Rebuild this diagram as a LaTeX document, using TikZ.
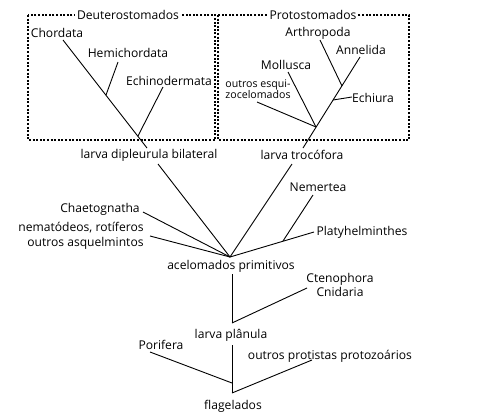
\documentclass[tikz,border=0pt]{standalone}
\usepackage{fontspec}
\setmainfont{Open Sans}
\usetikzlibrary{positioning}
\begin{document}
\begin{tikzpicture}[x=1pt,y=-1pt,font=\fontsize{12.1}{14.5}\selectfont,
 taxon/.style={inner sep=1pt,align=center},
 clade/.style={draw,line width=1.2pt,dash pattern=on 2pt off 1.6pt},
 cladelabel/.style={fill=white,inner sep=2pt},
 branch/.style={line width=0.9pt},
 small/.style={font=\fontsize{10.6}{8.8}\selectfont,align=left,inner sep=0pt}]
\useasboundingbox (0,0) rectangle (504,418);
\draw[clade] (28,15) rectangle (215,140);
\draw[clade] (218,15) rectangle (409,140);
\node[cladelabel] (deut) at (128,15) {Deuterostomados};
\node[cladelabel] (prot) at (313,15) {Protostomados};
\node[taxon] (chord) at (57,33) {Chordata};
\node[taxon] (hemi) at (128,53) {Hemichordata};
\node[taxon] (echino) at (169,81) {Echinodermata};
\node[taxon] (dip) at (149,155) {larva dipleurula bilateral};
\node[taxon] (arthro) at (318,33) {Arthropoda};
\node[taxon] (annel) at (361,50) {Annelida};
\node[taxon] (mollu) at (286,65) {Mollusca};
\node[small] (esqui) at (258,89) {outros esqui-\\zocelomados};
\node[taxon] (echiu) at (373,98) {Echiura};
\node[taxon] (troco) at (302,155) {larva trocófora};
\node[taxon] (nemer) at (318,187) {Nemertea};
\node[taxon] (platy) at (362,232) {Platyhelminthes};
\node[taxon] (chaet) at (100,209) {Chaetognatha};
\node[taxon,align=right] (nemat) at (81,236) {nematódeos, rotíferos\\outros asquelmintos};
\node[taxon] (acel) at (231,266) {acelomados primitivos};
\node[taxon] (cteno) at (340,285) {Ctenophora\\Cnidaria};
\node[taxon] (planu) at (231,335) {larva plânula};
\node[taxon] (porif) at (161,345) {Porifera};
\node[taxon] (proto) at (330,356) {outros protistas protozoários};
\node[taxon] (flag) at (233,406) {flagelados};
\coordinate (chordend) at (63,40);
\coordinate (hemiend) at (118,62);
\coordinate (echinoend) at (163,87);
\coordinate (hemijoin) at (106,95);
\coordinate (echinojoin) at (138,136);
\coordinate (deutroot) at (147,148);
\coordinate (annelend) at (360,57);
\coordinate (arthroend) at (320,40);
\coordinate (arthrojoin) at (342,86);
\coordinate (echiuend) at (352,97);
\coordinate (echiujoin) at (333,100);
\coordinate (molluend) at (288,72);
\coordinate (esquiend) at (257,102);
\coordinate (mollujoin) at (316,127);
\coordinate (protroot) at (303,148);
\coordinate (dipend) at (158,164);
\coordinate (trocoend) at (292,164);
\coordinate (nemerend) at (313,195);
\coordinate (nemerjoin) at (283,241);
\coordinate (platyend) at (314,232);
\coordinate (chaetend) at (143,212);
\coordinate (nematend) at (150,236);
\coordinate (bilat) at (230,257);
\coordinate (aceltop) at (232,274);
\coordinate (cnidjoin) at (232,323);
\coordinate (cnidend) at (307,288);
\coordinate (planutop) at (232,345);
\coordinate (flagjoin) at (232,393);
\coordinate (porifjoin) at (232,383);
\coordinate (porifend) at (150,352);
\coordinate (protoend) at (312,360);
\draw[branch] (chordend)--(deutroot);
\draw[branch] (hemiend)--(hemijoin);
\draw[branch] (echinoend)--(echinojoin);
\draw[branch] (annelend)--(protroot);
\draw[branch] (arthroend)--(arthrojoin);
\draw[branch] (echiuend)--(echiujoin);
\draw[branch] (molluend)--(mollujoin);
\draw[branch] (esquiend)--(mollujoin);
\draw[branch] (dipend)--(bilat);
\draw[branch] (trocoend)--(bilat);
\draw[branch] (nemerend)--(nemerjoin);
\draw[branch] (platyend)--(bilat);
\draw[branch] (chaetend)--(bilat);
\draw[branch] (nematend)--(bilat);
\draw[branch] (aceltop)--(cnidjoin);
\draw[branch] (cnidend)--(cnidjoin);
\draw[branch] (planutop)--(flagjoin);
\draw[branch] (porifend)--(porifjoin);
\draw[branch] (protoend)--(flagjoin);
\end{tikzpicture}
\end{document}
